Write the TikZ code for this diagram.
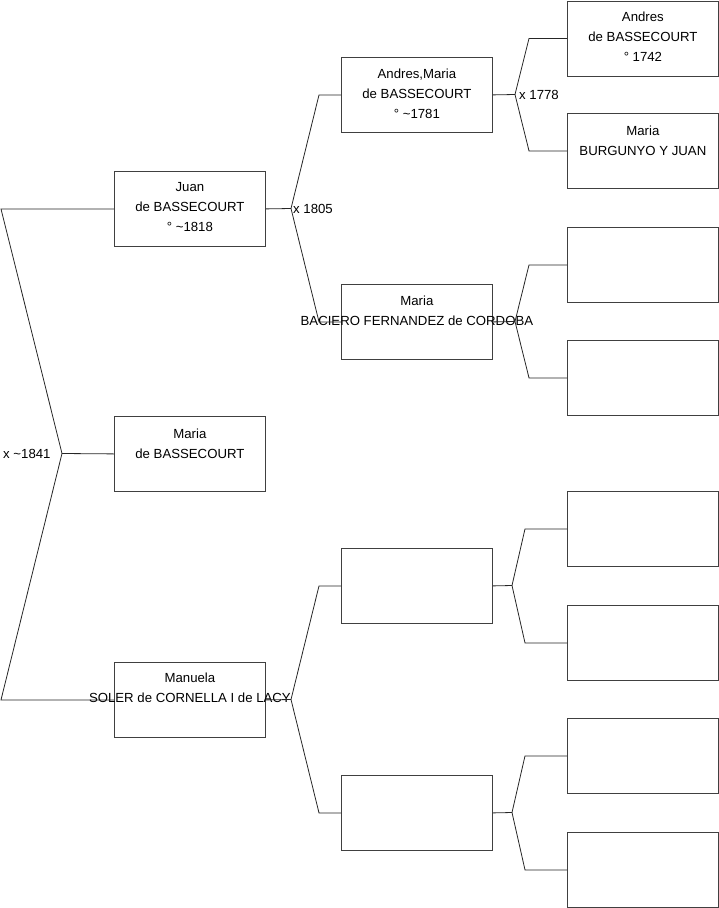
\documentclass[tikz,border=0pt]{standalone}
\usepackage{fontspec}
\setmainfont{Liberation Sans}
\usetikzlibrary{calc}
\begin{document}
\begin{tikzpicture}[x=1pt,y=-1pt,
  person/.style={draw=black!75, line width=0.8pt, minimum width=151pt, minimum height=75pt, inner sep=0pt, anchor=north west},
  txt/.style={anchor=north, inner sep=0pt, align=center, font=\fontsize{13.2}{20}\selectfont, text=black},
  lbl/.style={anchor=west, inner sep=0pt, font=\fontsize{13.2}{20}\selectfont, text=black},
  link/.style={draw=black!85, line width=0.8pt}]
\useasboundingbox (0,0) rectangle (719,908);
% generation 1
\node[person] (juan) at (114,171) {};
\node[person] (maria) at (114,416) {};
\node[person] (manu) at (114,662) {};
% generation 2
\node[person] (am) at (341,57) {};
\node[person] (bac) at (341,284) {};
\node[person] (e1) at (341,548) {};
\node[person] (e2) at (341,775) {};
% generation 3
\node[person] (andres) at (567,0.5) {};
\node[person] (burg) at (567,113) {};
\node[person] (g3) at (567,227) {};
\node[person] (g4) at (567,340) {};
\node[person] (g5) at (567,491) {};
\node[person] (g6) at (567,605) {};
\node[person] (g7) at (567,718) {};
\node[person] (g8) at (567,832) {};
% texts
\node[txt] (tjuan) at ([yshift=-11.4pt]juan.north) {Juan\\de BASSECOURT\\° \textasciitilde1818};
\node[txt] (tmaria) at ([yshift=-12.4pt]maria.north) {Maria\\de BASSECOURT};
\node[txt] (tmanu) at ([yshift=-10.4pt]manu.north) {Manuela\\SOLER de CORNELLA I de LACY};
\node[txt] (tam) at ([yshift=-11.4pt]am.north) {Andres,Maria\\de BASSECOURT\\° \textasciitilde1781};
\node[txt] (tbac) at ([yshift=-11.4pt]bac.north) {Maria\\BACIERO FERNANDEZ de CORDOBA};
\node[txt] (tandres) at ([yshift=-11.4pt]andres.north) {Andres\\de BASSECOURT\\° 1742};
\node[txt] (tburg) at ([yshift=-12.4pt]burg.north) {Maria\\BURGUNYO Y JUAN};
% forks
\coordinate (f1) at (62,453.5);
\coordinate (f2) at (291,208.5);
\coordinate (f3) at (291,699.5);
\coordinate (f4) at (515,94.5);
\coordinate (f5) at (515,321.5);
\coordinate (f6) at (512,585.5);
\coordinate (f7) at (512,812.5);
% connectors gen1
\draw[link] (juan.west) -- ++(-113,0) -- (f1) -- (maria.west);
\draw[link] (manu.west) -- ++(-113,0) -- (f1);
\node[lbl] (l1) at (3,453.5) {x \textasciitilde1841};
% gen2
\draw[link] (juan.east) -- (f2);
\draw[link] (am.west) -- ++(-22,0) -- (f2) -- ($(bac.west)+(-22,0)$) -- (bac.west);
\node[lbl] (l2) at ([xshift=2pt]f2) {x 1805};
\draw[link] (manu.east) -- (f3);
\draw[link] (e1.west) -- ++(-22,0) -- (f3) -- ($(e2.west)+(-22,0)$) -- (e2.west);
% gen3
\draw[link] (am.east) -- (f4);
\draw[link] (andres.west) -- ++(-38,0) -- (f4) -- ($(burg.west)+(-38,0)$) -- (burg.west);
\node[lbl] (l3) at ([xshift=4pt]f4) {x 1778};
\draw[link] (bac.east) -- (f5);
\draw[link] (g3.west) -- ++(-38,0) -- (f5) -- ($(g4.west)+(-38,0)$) -- (g4.west);
\draw[link] (e1.east) -- (f6);
\draw[link] (g5.west) -- ++(-42,0) -- (f6) -- ($(g6.west)+(-42,0)$) -- (g6.west);
\draw[link] (e2.east) -- (f7);
\draw[link] (g7.west) -- ++(-42,0) -- (f7) -- ($(g8.west)+(-42,0)$) -- (g8.west);
\end{tikzpicture}
\end{document}
